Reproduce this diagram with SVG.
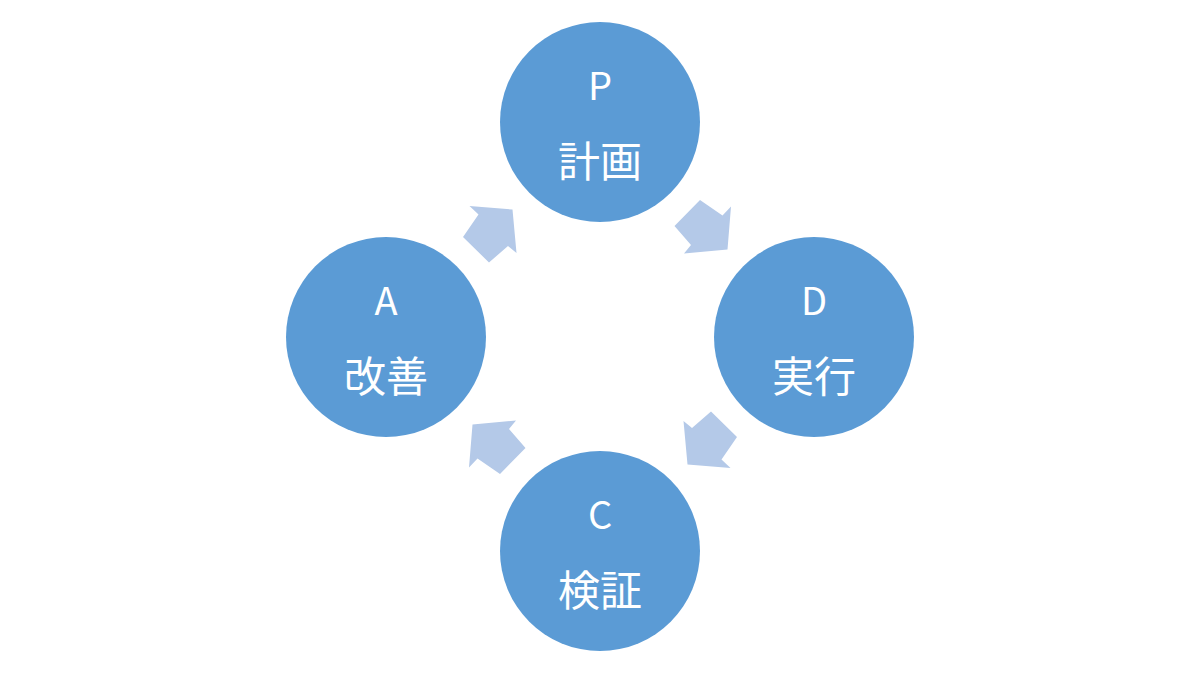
<svg xmlns="http://www.w3.org/2000/svg" width="1200" height="675" viewBox="0 0 1200 675">
<defs>
<style>
.node circle{fill:#5B9BD5}
.lat{font-family:"Noto Sans CJK JP","Noto Sans",sans-serif;font-size:38px;fill:#fff;text-anchor:middle}
.cjk{font-family:"Noto Sans CJK JP",sans-serif;font-size:42px;fill:#fff;text-anchor:middle}
.arr{fill:#B4C9E8}
</style>
<polygon id="arrow" points="512.5,209.5 516.5,253 508,246 489,262.5 463,237 478.5,214.5 469.5,206"/>
</defs>
<rect width="1200" height="675" fill="#fff"/>
<g id="connectors" class="arr">
<use href="#arrow"/>
<use href="#arrow" transform="rotate(90 600 337)"/>
<use href="#arrow" transform="rotate(180 600 337)"/>
<use href="#arrow" transform="rotate(270 600 337)"/>
</g>
<g id="nodeP" class="node"><circle cx="600" cy="122" r="100"/><text class="lat" x="600" y="100">P</text><text class="cjk" x="600" y="177">計画</text></g>
<g id="nodeD" class="node"><circle cx="814" cy="337" r="100"/><text class="lat" x="814" y="315">D</text><text class="cjk" x="814" y="392">実行</text></g>
<g id="nodeC" class="node"><circle cx="600" cy="551" r="100"/><text class="lat" x="600" y="529">C</text><text class="cjk" x="600" y="606">検証</text></g>
<g id="nodeA" class="node"><circle cx="386" cy="337" r="100"/><text class="lat" x="386" y="315">A</text><text class="cjk" x="386" y="392">改善</text></g>
</svg>
